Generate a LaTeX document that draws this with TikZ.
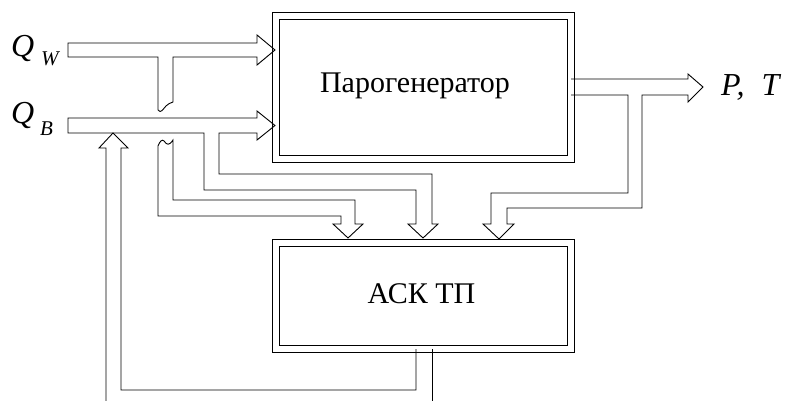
\documentclass[tikz,border=0pt]{standalone}
\usepackage{fontspec}
\setmainfont{Liberation Serif}
\begin{document}
\begin{tikzpicture}[x=1pt,y=-1pt,
  pipe/.style={draw=black,line width=0.9pt,line join=miter},
  unit/.style={draw=black,line width=1pt,double=white,double distance=6pt,
    rectangle,inner sep=0pt,minimum width=295pt},
  caption/.style={inner sep=0pt,font=\fontsize{30}{30}\selectfont},
  sym/.style={inner sep=0pt,anchor=base west,font=\fontsize{32}{32}\selectfont\itshape},
  subsym/.style={inner sep=0pt,anchor=base west,font=\fontsize{21}{21}\selectfont\itshape}]
\useasboundingbox (0,0) rectangle (785,401);

% plant blocks
\node[unit,minimum height=143.5pt] (pg) at (423,87.75) {};
\node[caption] (pgtxt) at (415,86) {Парогенератор};
\node[unit,minimum height=106pt] (acs) at (423,295.5) {};
\node[caption] (acstxt) at (421.5,293.5) {АСК ТП};

% input / output labels
\node[sym] (qw) at (11,57) {Q};
\node[subsym] (qwsub) at (41,66) {W};
\node[sym] (qb) at (11,124) {Q};
\node[subsym] (qbsub) at (40,136) {B};
\node[sym] (pt) at (721,96) {P,\hspace{17pt}T};

% water feed with a branch broken off below
\draw[pipe] (158,110) -- (158,57) -- (68,57) -- (68,43) -- (257,43) -- (257,35)
  -- (pg.west |- 0,50) -- (257,65) -- (257,57) -- (173,57) -- (173,102)
  .. controls (170,103) and (168,104) .. (166,106)
  .. controls (163,109) and (161,114) .. (158,110);

% continuation of the broken branch down to the control system
\draw[pipe] (158,146)
  .. controls (160,141) and (162,139) .. (164,141)
  .. controls (167,145) and (169,146) .. (173,140)
  -- (173,200) -- (355,200) -- (355,224) -- (363,224) -- (348,238)
  -- (333,224) -- (341,224) -- (341,216) -- (158,216) -- cycle;

% fuel feed with its two measurement taps
\draw[pipe] (68,118) -- (257,118) -- (257,111) -- (pg.west |- 0,125.5) -- (257,140)
  -- (257,133) -- (219,133) -- (219,174) -- (432,174) -- (432,224) -- (438,224)
  -- (423,238) -- (408,224) -- (416,224) -- (416,190) -- (204,190) -- (204,133)
  -- (68,133) -- cycle;

% steam output P, T with a tap to the control system
\draw[pipe] (pg.east |- 0,79) -- (688,79) -- (688,74) -- (703,87) -- (688,102)
  -- (688,95) -- (642,95) -- (642,208) -- (507,208) -- (507,224) -- (514,224)
  -- (499,239) -- (483,224) -- (491,224) -- (491,193) -- (628,193) -- (628,95)
  -- (pg.east |- 0,95);

% control action back to the fuel feed
\coordinate (fbA) at (106,401);
\coordinate (fbB) at (432,401);
\draw[pipe] (acs.south -| 416,0) -- (416,390) -- (121,390) -- (121,148) -- (128,148)
  -- (113,133) -- (99,148) -- (106,148) -- (fbA);
\draw[pipe] (acs.south -| 432,0) -- (fbB);
\end{tikzpicture}
\end{document}
